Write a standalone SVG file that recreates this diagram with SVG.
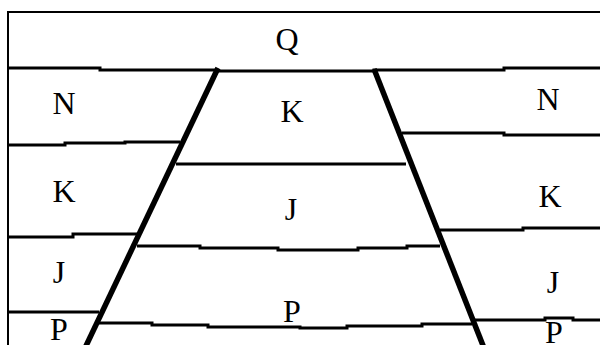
<svg xmlns="http://www.w3.org/2000/svg" width="600" height="345" viewBox="0 0 600 345">
<style>
.b{fill:none;stroke:#000;stroke-width:3}
.f{fill:none;stroke:#000;stroke-width:5.5}
.fr{fill:none;stroke:#000;stroke-width:2}
.t{font-family:"Liberation Serif","Times New Roman",serif;font-size:32px;fill:#000;text-anchor:middle}
</style>
<rect width="600" height="345" fill="#fff"/>
<g id="connectors">
<polyline class="fr" points="8,345 8,12 600,12"/>
<polyline class="b" points="8,68 100,68 100,70 217,70 217,71 374,71 374,70 504,70 504,68 600,68"/>
<polyline class="b" points="8,145 65,145 65,143 125,143 125,142 180,142"/>
<polyline class="b" points="176,164 406,164"/>
<polyline class="b" points="402,133 504,133 504,135 600,135"/>
<polyline class="b" points="8,237 73,237 73,234 137,234"/>
<polyline class="b" points="137,246 200,246 200,248 278,248 278,250 358,250 358,248 407,248 407,246 440,246"/>
<polyline class="b" points="440,230 523,230 523,228 600,228"/>
<polyline class="b" points="8,312 99,312"/>
<polyline class="b" points="99,323 152,323 152,325 208,325 208,327 300,327 300,328 347,328 347,326 422,326 422,324 472,324"/>
<polyline class="b" points="472,320 545,320 545,318 573,318 573,320 600,320"/>
<line class="f" x1="218" y1="68" x2="85" y2="348"/>
<line class="f" x1="374" y1="69" x2="484" y2="348"/>
</g>
<g id="Q"><text class="t" x="287" y="50">Q</text></g>
<g id="N-left"><text class="t" x="64" y="114">N</text></g>
<g id="K-mid"><text class="t" x="292" y="122">K</text></g>
<g id="N-right"><text class="t" x="548" y="110">N</text></g>
<g id="K-left"><text class="t" x="64" y="202">K</text></g>
<g id="J-mid"><text class="t" x="291" y="220">J</text></g>
<g id="K-right"><text class="t" x="550" y="207">K</text></g>
<g id="J-left"><text class="t" x="59" y="283">J</text></g>
<g id="P-mid"><text class="t" x="292" y="322">P</text></g>
<g id="J-right"><text class="t" x="553" y="293">J</text></g>
<g id="P-left"><text class="t" x="59" y="340">P</text></g>
<g id="P-right"><text class="t" x="554" y="343">P</text></g>
</svg>
